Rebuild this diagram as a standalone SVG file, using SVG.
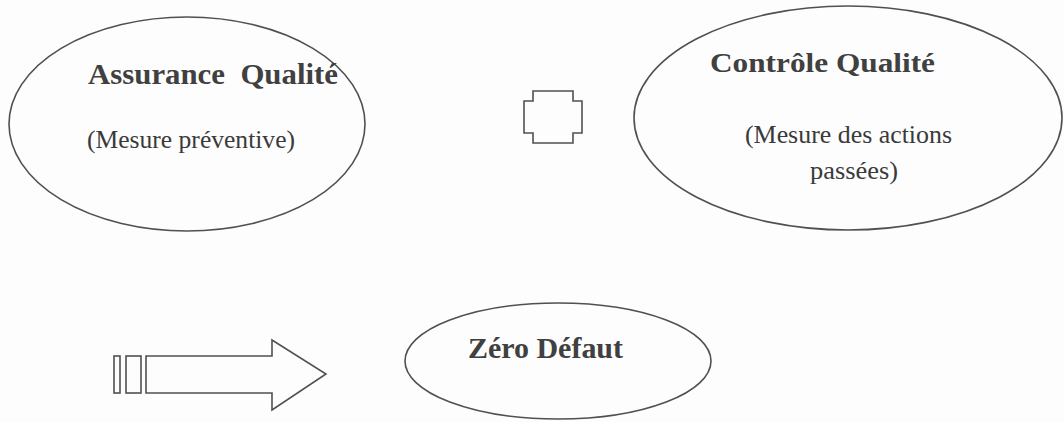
<svg xmlns="http://www.w3.org/2000/svg" width="1064" height="422" viewBox="0 0 1064 422">
  <style>
    .shape { fill: none; stroke: #505050; stroke-width: 1.6; stroke-linejoin: miter; }
    .title { font-family: "Liberation Serif", "Times New Roman", serif; font-weight: bold; fill: #404040; }
    .note { font-family: "Liberation Serif", "Times New Roman", serif; fill: #3a3a3a; }
  </style>
  <rect width="1064" height="422" fill="#fdfdfd"/>

  <g id="assurance-qualite">
    <ellipse class="shape" cx="187" cy="124" rx="178" ry="107"/>
    <text class="title" x="88" y="84" font-size="29" textLength="250" lengthAdjust="spacingAndGlyphs" xml:space="preserve">Assurance  Qualité</text>
    <text class="note" x="87" y="148" font-size="25" textLength="208" lengthAdjust="spacingAndGlyphs">(Mesure préventive)</text>
  </g>

  <g id="equivalence">
    <path class="shape" d="M533 91 H573 V101 H582 V133 H573 V143 H533 V133 H524 V101 H533 Z"/>
  </g>

  <g id="controle-qualite">
    <ellipse class="shape" cx="848" cy="118" rx="214" ry="112"/>
    <text class="title" x="710" y="72" font-size="28" textLength="225" lengthAdjust="spacingAndGlyphs">Contrôle Qualité</text>
    <text class="note" x="745" y="143" font-size="25" textLength="207" lengthAdjust="spacingAndGlyphs">(Mesure des actions</text>
    <text class="note" x="810" y="179" font-size="25" textLength="88" lengthAdjust="spacingAndGlyphs">passées)</text>
  </g>

  <g id="connectors">
    <rect class="shape" x="114" y="356" width="6" height="37"/>
    <rect class="shape" x="126" y="356" width="15" height="37"/>
    <path class="shape" d="M146 356 H272 V340 L326 374 L272 410 V393 H146 Z"/>
  </g>

  <g id="zero-defaut">
    <ellipse class="shape" cx="558" cy="361" rx="153" ry="58"/>
    <text class="title" x="468" y="358" font-size="29" textLength="155" lengthAdjust="spacingAndGlyphs">Zéro Défaut</text>
  </g>
</svg>
